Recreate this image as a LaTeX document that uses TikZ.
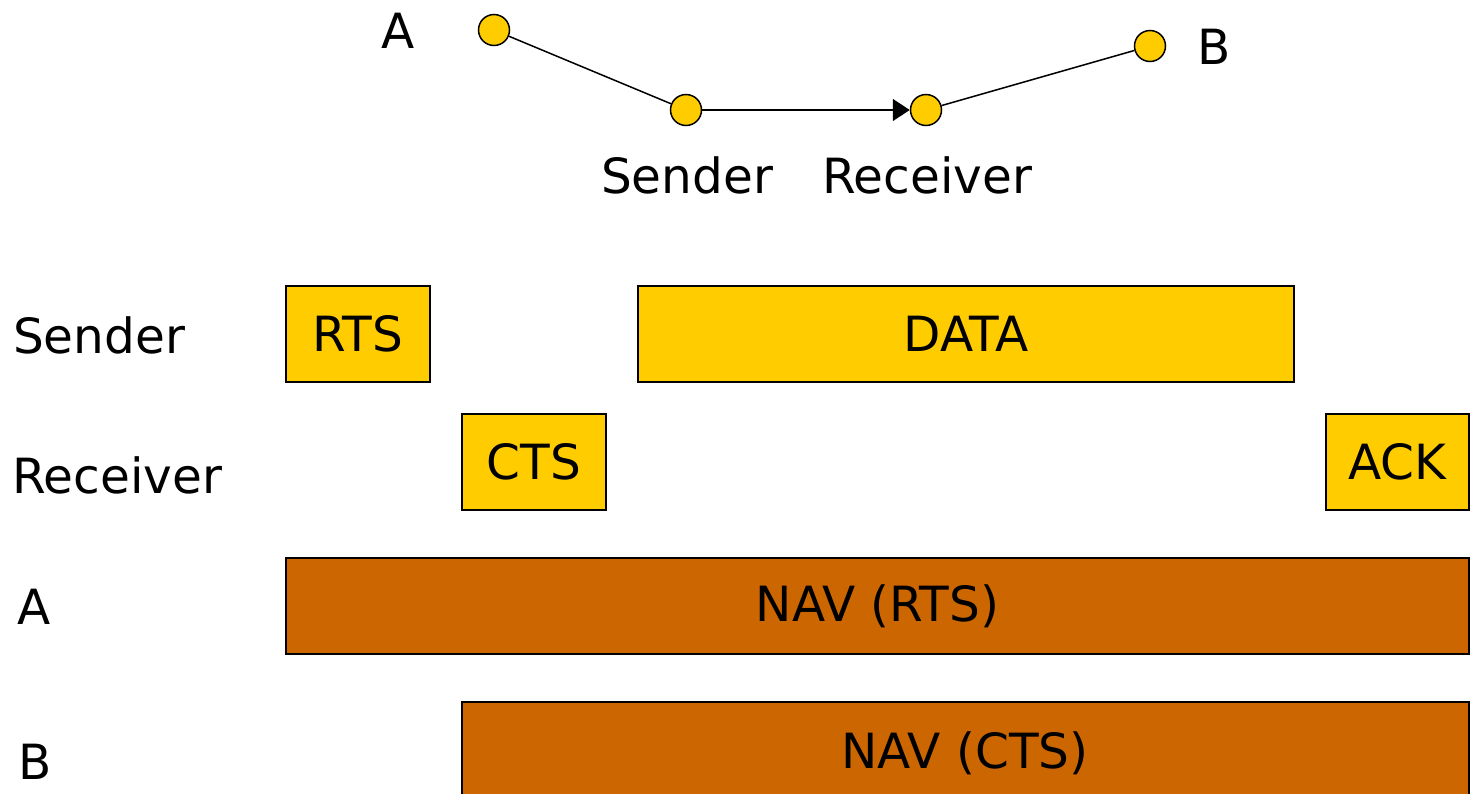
\documentclass[tikz,border=0pt]{standalone}
\usepackage{fontspec}
\setmainfont{DejaVu Sans}
\usetikzlibrary{arrows.meta}
\definecolor{frameyellow}{HTML}{FFCC00}
\definecolor{navbrown}{HTML}{CC6600}
\tikzset{
  bigfont/.style={font=\fontsize{48.5}{52}\selectfont},
  txt/.style={bigfont, inner sep=0pt},
  station/.style={circle, draw=black, line width=1.5pt, fill=frameyellow, minimum size=31pt, inner sep=0pt},
  link/.style={line width=1.5pt},
  frame/.style={draw=black, line width=2pt, fill=frameyellow, bigfont},
  navbar/.style={draw=black, line width=2pt, fill=navbrown, bigfont},
  rowlabel/.style={txt, anchor=west},
}
\begin{document}
\begin{tikzpicture}[x=1pt, y=-1pt]
\useasboundingbox (0,0) rectangle (1470,793);
\clip (0,0) rectangle (1470,793);
\fill[white] (0,0) rectangle (1470,793);

% topology
\node[station] (nA) at (494,30) {};
\node[station] (nS) at (686,110) {};
\node[station] (nR) at (926,110) {};
\node[station] (nB) at (1150,46) {};
\draw[link] (nA) -- (nS);
\draw[link, -{Triangle[length=17pt, width=22pt]}] (nS) -- (nR);
\draw[link] (nR) -- (nB);
\node[txt] (lA) at (398,31) {A};
\node[txt] (lB) at (1214,47) {B};
\node[txt] (lS) at (687,175) {Sender};
\node[txt] (lR) at (927,175) {Receiver};

% row labels
\node[rowlabel] (rS) at (13,335) {Sender};
\node[rowlabel] (rR) at (12,475) {Receiver};
\node[rowlabel] (rA) at (17,607) {A};
\node[rowlabel] (rB) at (18,762) {B};

% frames on the time line
\draw[frame] (286,286) rectangle node (rts) {RTS} (430,382);
\draw[frame] (638,286) rectangle node (data) {DATA} (1294,382);
\draw[frame] (462,414) rectangle node (cts) {CTS} (606,510);
\draw[frame] (1326,414) rectangle node (ack) {ACK} (1469,510);
\draw[navbar] (286,558) rectangle node (navr) {NAV (RTS)} (1469,654);
\draw[navbar] (462,702) rectangle (1469,812);
\node[txt] (navc) at (965,753) {NAV (CTS)};
\end{tikzpicture}
\end{document}
